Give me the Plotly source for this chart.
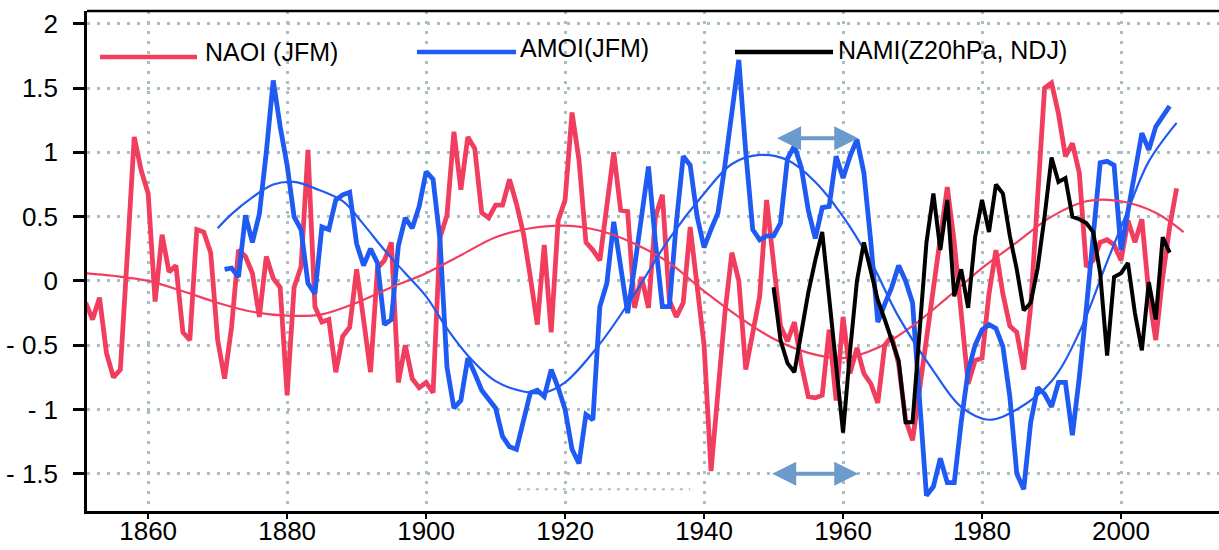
import plotly.graph_objects as go

# ---------------- data ----------------
naoi_years = list(range(1851, 2009))
naoi_values = [
    -0.17, -0.30, -0.13, -0.56, -0.75, -0.69, 0.20, 1.12, 0.86, 0.68,   # 1851-1860
    -0.16, 0.36, 0.07, 0.12, -0.40, -0.46, 0.40, 0.38, 0.22, -0.46,     # 1861-1870
    -0.76, -0.36, 0.24, 0.19, 0.06, -0.28, 0.19, 0.02, -0.05, -0.89,    # 1871-1880
    -0.05, 0.11, 1.02, -0.20, -0.32, -0.30, -0.71, -0.43, -0.36, 0.09,  # 1881-1890
    -0.30, -0.71, 0.10, 0.16, 0.30, -0.79, -0.50, -0.76, -0.83, -0.79,  # 1891-1900
    -0.87, 0.34, 0.51, 1.16, 0.71, 1.12, 1.03, 0.53, 0.49, 0.59,        # 1901-1910
    0.59, 0.79, 0.60, 0.37, 0.03, -0.34, 0.28, -0.40, 0.47, 0.63,       # 1911-1920
    1.31, 0.94, 0.30, 0.24, 0.16, 0.55, 1.00, 0.55, 0.54, -0.21,        # 1921-1930
    0.03, -0.21, 0.50, 0.67, -0.15, -0.28, -0.17, 0.42, -0.05, -0.50,   # 1931-1940
    -1.48, -0.90, -0.25, 0.22, 0.00, -0.69, -0.40, -0.12, 0.63, 0.10,   # 1941-1950
    -0.35, -0.47, -0.32, -0.65, -0.90, -0.91, -0.89, -0.38, -0.93, -0.28,  # 1951-1960
    -0.72, -0.52, -0.72, -0.80, -0.95, -0.50, -0.43, -0.65, -1.08, -1.24,  # 1961-1970
    -0.85, -0.45, -0.05, 0.35, 0.73, 0.30, -0.30, -0.80, -0.62, -0.60,  # 1971-1980
    -0.10, 0.24, -0.10, -0.35, -0.40, -0.69, -0.20, 0.60, 1.50, 1.54,   # 1981-1990
    1.30, 0.97, 1.07, 0.84, 0.11, 0.16, 0.30, 0.32, 0.28, 0.16,         # 1991-2000
    0.47, 0.30, 0.48, -0.10, -0.46, 0.03, 0.42, 0.72,                   # 2001-2008
]

amoi_years = list(range(1871, 2008))
amoi_values = [
    0.09, 0.10, 0.03, 0.51, 0.30, 0.52, 1.00, 1.56, 1.20, 0.90,         # 1871-1880
    0.50, 0.40, -0.02, -0.10, 0.42, 0.40, 0.63, 0.67, 0.69, 0.29,       # 1881-1890
    0.12, 0.25, 0.14, -0.34, -0.30, 0.27, 0.49, 0.41, 0.58, 0.85,       # 1891-1900
    0.79, 0.32, -0.67, -0.99, -0.93, -0.60, -0.72, -0.85, -0.92, -0.99, # 1901-1910
    -1.21, -1.29, -1.31, -1.10, -0.87, -0.85, -0.90, -0.69, -0.83, -1.00,  # 1911-1920
    -1.31, -1.42, -1.04, -1.08, -0.20, -0.02, 0.46, 0.11, -0.25, 0.11,  # 1921-1930
    0.50, 0.89, 0.30, -0.20, -0.20, 0.45, 0.97, 0.90, 0.50, 0.26,       # 1931-1940
    0.40, 0.53, 0.90, 1.30, 1.72, 1.00, 0.40, 0.32, 0.35, 0.35,         # 1941-1950
    0.45, 0.95, 1.05, 0.88, 0.55, 0.33, 0.57, 0.58, 0.97, 0.80,         # 1951-1960
    0.97, 1.10, 0.84, 0.30, -0.32, -0.18, -0.05, 0.12, 0.00, -0.17,     # 1961-1970
    -0.90, -1.67, -1.60, -1.38, -1.57, -1.57, -1.10, -0.70, -0.50, -0.38,  # 1971-1980
    -0.34, -0.37, -0.51, -0.90, -1.50, -1.62, -1.10, -0.83, -0.88, -0.98,  # 1981-1990
    -0.79, -0.79, -1.20, -0.75, -0.22, 0.40, 0.92, 0.93, 0.90, 0.24,    # 1991-2000
    0.55, 0.85, 1.15, 1.02, 1.20, 1.28, 1.36,                           # 2001-2007
]

nami_years = list(range(1950, 2008))
nami_values = [
    -0.05, -0.46, -0.64, -0.71, -0.40, -0.09, 0.16, 0.38, -0.13, -0.65,  # 1950-1959
    -1.18, -0.55, 0.00, 0.30, 0.07, -0.15, -0.30, -0.46, -0.62, -1.10,   # 1960-1969
    -1.10, -0.40, 0.30, 0.68, 0.24, 0.63, -0.12, 0.09, -0.21, 0.34,      # 1970-1979
    0.63, 0.38, 0.75, 0.68, 0.35, 0.09, -0.23, -0.17, 0.10, 0.50,        # 1980-1989
    0.96, 0.77, 0.80, 0.50, 0.48, 0.45, 0.38, 0.06, -0.58, 0.03,         # 1990-1999
    0.06, 0.14, -0.25, -0.54, -0.01, -0.30, 0.34, 0.22,                  # 2000-2007
]

naoi_smooth_years = [1851, 1855, 1860, 1865, 1870, 1875, 1880, 1885, 1890, 1895, 1900,
                     1905, 1910, 1915, 1920, 1925, 1930, 1935, 1940, 1945, 1950, 1955,
                     1960, 1965, 1970, 1975, 1980, 1985, 1990, 1995, 2000, 2005, 2009]
naoi_smooth_values = [0.06, 0.04, 0.00, -0.08, -0.17, -0.24, -0.27, -0.26, -0.17, -0.05, 0.06,
                      0.20, 0.34, 0.41, 0.43, 0.39, 0.29, 0.14, -0.08, -0.28, -0.45, -0.56,
                      -0.60, -0.52, -0.35, -0.13, 0.10, 0.30, 0.50, 0.62, 0.62, 0.53, 0.38]

amoi_smooth_years = [1870, 1872, 1875, 1878, 1881, 1884, 1888, 1891, 1894, 1897, 1900, 1903,
                     1906, 1910, 1914, 1917, 1920, 1925, 1930, 1935, 1940, 1944, 1948, 1952,
                     1956, 1960, 1964, 1968, 1973, 1977, 1981, 1985, 1990, 1994, 1998, 2001,
                     2004, 2008]
amoi_smooth_values = [0.41, 0.52, 0.65, 0.75, 0.77, 0.72, 0.62, 0.44, 0.24, 0.06, -0.12, -0.37,
                      -0.58, -0.78, -0.86, -0.87, -0.79, -0.49, -0.10, 0.33, 0.68, 0.91, 0.98, 0.94,
                      0.77, 0.50, 0.15, -0.28, -0.70, -0.98, -1.08, -1.00, -0.78, -0.40, 0.15, 0.55,
                      0.93, 1.23]

x_ticks = [1860, 1880, 1900, 1920, 1940, 1960, 1980, 2000]
y_ticks = [2, 1.5, 1, 0.5, 0, -0.5, -1, -1.5]
y_ticktext = ["2", "1.5", "1", "0.5", "0", "- 0.5", "- 1", "- 1.5"]

legend_labels = ["NAOI (JFM)", "AMOI(JFM)", "NAMI(Z20hPa, NDJ)"]

# arrows (period markers): tail year, head year, level
arrow_upper = (1962.4, 1950.5, 1.11)
arrow_lower = (1962.4, 1949.8, -1.50)

# ---------------- styles ----------------
RED = "#F23E5E"
BLUE = "#1F5BF2"
BLACK = "#000000"
ARROW = "#6B9BCB"
GRID = "#A9BDC2"
FONT = "Liberation Sans, Arial, sans-serif"

fig = go.Figure()
fig.add_trace(go.Scatter(x=naoi_years, y=naoi_values, mode="lines",
                         line=dict(color=RED, width=4.8), hoverinfo="skip"))
fig.add_trace(go.Scatter(x=amoi_years, y=amoi_values, mode="lines",
                         line=dict(color=BLUE, width=4.8), hoverinfo="skip"))
fig.add_trace(go.Scatter(x=naoi_smooth_years, y=naoi_smooth_values, mode="lines",
                         line=dict(color=RED, width=2.2, shape="spline"), hoverinfo="skip"))
fig.add_trace(go.Scatter(x=amoi_smooth_years, y=amoi_smooth_values, mode="lines",
                         line=dict(color=BLUE, width=2.2, shape="spline"), hoverinfo="skip"))
fig.add_trace(go.Scatter(x=nami_years, y=nami_values, mode="lines",
                         line=dict(color=BLACK, width=4.0), hoverinfo="skip"))

# double-headed arrows
annotations = []
for tail, head, lvl in (arrow_upper, arrow_lower):
    annotations.append(dict(x=head, y=lvl, ax=tail, ay=lvl, xref="x", yref="y",
                            axref="x", ayref="y", text="", showarrow=True,
                            arrowhead=2, arrowside="end+start", arrowsize=1.2,
                            arrowwidth=4, arrowcolor=ARROW))

# legend (drawn manually)
L = 87.0
W = 1132.0
B = 511.0
H = 500.0
def px(v):
    return (v - L) / W
def py(v):
    return (B - v) / H

legend_items = [
    (legend_labels[0], RED, 100, 197, 57, 203, 52),
    (legend_labels[1], BLUE, 417, 516, 52, 518, 48),
    (legend_labels[2], BLACK, 735, 833, 52, 836, 50),
]
shapes = []
for label, col, x0, x1, ly, tx, ty in legend_items:
    shapes.append(dict(type="line", xref="paper", yref="paper",
                       x0=px(x0), x1=px(x1), y0=py(ly), y1=py(ly),
                       line=dict(color=col, width=4.5)))
    annotations.append(dict(x=px(tx), y=py(ty), xref="paper", yref="paper",
                            text=label, showarrow=False, xanchor="left",
                            yanchor="middle", font=dict(family=FONT, size=25, color="black")))

# top frame line
shapes.append(dict(type="line", xref="paper", yref="paper", x0=0, x1=1, y0=1, y1=1,
                   line=dict(color="black", width=2.5)))
# faint dotted segment near bottom
shapes.append(dict(type="line", xref="x", yref="y", x0=1913.2, x1=1938.0, y0=-1.62, y1=-1.62,
                   line=dict(color=GRID, width=2, dash="3px,6px")))

fig.update_layout(
    width=1219, height=550,
    margin=dict(l=87, r=0, t=11, b=39, autoexpand=False),
    plot_bgcolor="white", paper_bgcolor="white",
    showlegend=False,
    shapes=shapes, annotations=annotations,
    font=dict(family=FONT, size=26, color="black"),
)
fig.update_xaxes(range=[1851.2, 2014.1], tickvals=x_ticks, automargin=False,
                 ticks="outside", ticklen=5, tickwidth=2, tickcolor="black",
                 ticklabelstandoff=-10,
                 showline=True, linewidth=2.5, linecolor="black",
                 showgrid=True, gridcolor=GRID, gridwidth=3, griddash="3px,7px",
                 zeroline=False, tickfont=dict(family=FONT, size=26, color="black"))
fig.update_yaxes(range=[-1.79, 2.10], tickvals=y_ticks, ticktext=y_ticktext, automargin=False,
                 ticks="outside", ticklen=11, tickwidth=2.5, tickcolor="black",
                 ticklabelstandoff=10,
                 showline=True, linewidth=2.5, linecolor="black",
                 showgrid=True, gridcolor=GRID, gridwidth=3, griddash="3px,7px",
                 zeroline=False, tickfont=dict(family=FONT, size=26, color="black"))

fig.write_html("out.html", config={"displayModeBar": False},
               post_script="document.body.style.margin='0px';document.body.style.padding='0px';")
